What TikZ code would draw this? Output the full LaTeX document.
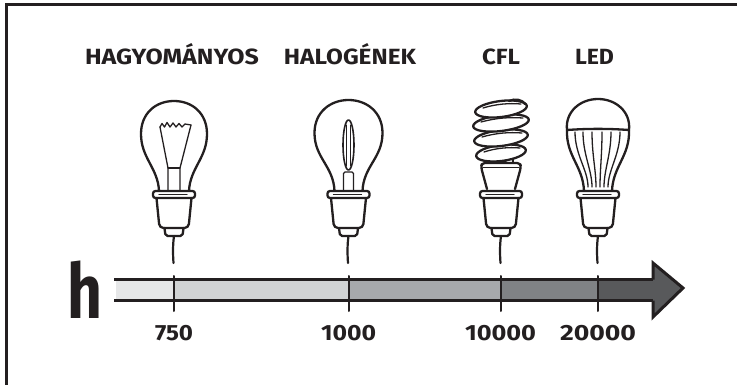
\documentclass[tikz,border=0pt]{standalone}
\usepackage{fontspec}
\setmainfont{Fira Sans}
\usepackage{graphicx}
\begin{document}
\definecolor{ink}{HTML}{231F20}
\definecolor{segA}{HTML}{E6E7E8}
\definecolor{segB}{HTML}{D1D3D4}
\definecolor{segC}{HTML}{A7A9AC}
\definecolor{segD}{HTML}{808285}
\definecolor{segE}{HTML}{58595B}
\newcommand\fitlabel[2]{\resizebox{#1}{\height}{\fontsize{22}{22}\selectfont\bfseries #2}}
\newcommand\fitnum[2]{\resizebox{#1}{\height}{\fontsize{22}{22}\selectfont\bfseries #2}}
\begin{tikzpicture}[x=1pt,y=-1pt,
  outline/.style={draw=ink,line width=2.3pt,line cap=round,line join=round},
  thinline/.style={draw=ink,line width=1.3pt,line cap=round,line join=round},
  frame/.style={draw=ink,line width=3pt},
  barline/.style={draw=ink,line width=3pt},
  tickline/.style={draw=ink,line width=2pt,line cap=round},
  wire/.style={draw=ink,line width=2.2pt,line cap=round},
  title/.style={text=ink,inner sep=0pt,anchor=base},
  number/.style={text=ink,inner sep=0pt,anchor=base},
]
\useasboundingbox (0,0) rectangle (737,385);

% frame (top and left edges)
\draw[frame] (6,385) -- (6,5) -- (737,5);

% titles
\node[title] (tInc) at (172,65) {\fitlabel{174pt}{HAGYOMÁNYOS}};
\node[title] (tHal) at (350,65) {\fitlabel{132pt}{HALOGÉNEK}};
\node[title] (tCfl) at (501,65) {\fitlabel{38pt}{CFL}};
\node[title] (tLed) at (594.5,65) {\fitlabel{39pt}{LED}};

% common lamp base: collar, socket, contact, lead wire
\tikzset{
  lampbase/.pic={
    \draw[outline,fill=white,rounded corners=2.5pt] (-21,191) rectangle (21,198);
    \draw[thinline] (-15,194.5) -- (13,194.5);
    \draw[outline,rounded corners=4pt] (-17.5,198) -- (-14.5,228) -- (14.5,228) -- (17.5,198);
    \draw[outline,rounded corners=2pt] (-9.5,228) -- (-8.5,236) -- (8.5,236) -- (9.5,228);
    \draw[wire] (0,236) .. controls (-1.2,245) and (-1.2,253) .. (-0.5,263);
  }
}

% incandescent bulb
\begin{scope}[shift={(174,0)}]
  \draw[outline] (-15,191) .. controls (-16,168) and (-33,158) .. (-33,134)
    .. controls (-33,113) and (-18,101) .. (0,101)
    .. controls (18,101) and (33,113) .. (33,134)
    .. controls (33,158) and (16,168) .. (15,191);
  \draw[thinline] (-14,127) -- (-12,123.5) -- (-9.5,127) -- (-7,122.5) -- (-4,127)
    -- (-1,123) -- (2,127) -- (5,123.5) -- (8,127) -- (11,124) -- (17,125);
  \draw[thinline] (-14,127) -- (-6,168) -- (-6,190);
  \draw[thinline] (17,125) -- (6,168) -- (6,190);
  \draw[thinline] (-6,168) -- (6,168);
  \pic {lampbase};
\end{scope}

% halogen bulb
\begin{scope}[shift={(348.5,0)}]
  \draw[outline] (-14,191) .. controls (-15,166) and (-34,158) .. (-34,133)
    .. controls (-34,112) and (-18,100) .. (0,100)
    .. controls (18,100) and (34,112) .. (34,133)
    .. controls (34,158) and (15,166) .. (14,191);
  \draw[thinline,line width=1.6pt] (0,145) ellipse [x radius=5.5, y radius=25];
  \draw[thinline,line width=1pt] (-1.8,125) -- (-1.8,166);
  \draw[thinline,line width=1pt] (1.8,125) -- (1.8,166);
  \draw[thinline,rounded corners=1.5pt] (-5,190) -- (-5,172) -- (5,172) -- (5,190);
  \pic {lampbase};
\end{scope}

% compact fluorescent bulb
\begin{scope}[shift={(501,0)}]
  \draw[outline] (-11,157) -- (-11,164);
  \draw[outline] (-4,157) -- (-5,164);
  \draw[outline] (5,157) -- (4,164);
  \draw[outline] (12,157) -- (12,164);
  \foreach \yc/\hw in {153/25, 138/27, 123/28, 109/26} {
    \draw[outline,fill=white,rotate around={7:(0,\yc)}] (0,\yc) ellipse [x radius=\hw, y radius=8];
    \draw[thinline] (-\hw+8,\yc-1) .. controls (-5,\yc-5) and (8,\yc-6) .. (\hw-6,\yc-5);
  }
  \draw[outline] (8,101) .. controls (14,98) and (22,100) .. (24,104);
  \draw[outline,fill=white,rounded corners=3pt] (-14,189) -- (-20,167) -- (-19,163)
    -- (19,163) -- (20,167) -- (14,189);
  \draw[thinline] (-18,167.5) -- (18,167.5);
  \pic {lampbase};
\end{scope}

% LED bulb
\begin{scope}[shift={(598,0)}]
  \draw[outline] (-31,130) .. controls (-33,112) and (-18,99) .. (0,99)
    .. controls (18,99) and (33,112) .. (31,130);
  \draw[outline] (-31,130) .. controls (-10,128.5) and (10,128.5) .. (31,130);
  \draw[outline] (-31,130) .. controls (-32,156) and (-15,166) .. (-14,191);
  \draw[outline] (31,130) .. controls (32,156) and (15,166) .. (14,191);
  \foreach \xt/\xb in {-23/-10, -15/-6, -6/-2, 4/2, 13/6, 22/10} {
    \draw[thinline] (\xt,132) .. controls (\xt,155) and (\xb,170) .. (\xb,187);
  }
  \pic {lampbase};
\end{scope}

% time axis: shaded bar
\fill[segA] (116,280) rectangle (174,300);
\fill[segB] (174,280) rectangle (348.5,300);
\fill[segC] (348.5,280) rectangle (501,300);
\fill[segD] (501,280) rectangle (597.5,300);
\fill[segE] (597.5,280) rectangle (656,300);
\draw[barline] (114,279.5) -- (653,279.5);
\draw[barline] (114,300.5) -- (653,300.5);
\draw[barline,fill=segE,line join=miter] (653,279.5) -- (653,263) -- (683,288) -- (653,317) -- (653,300.5);

% ticks
\foreach \tx in {174,348.5,501,597.5} {
  \draw[tickline] (\tx,276) -- (\tx,311);
}

% axis symbol
\node[text=ink,inner sep=0pt,anchor=base] (hour) at (84.5,318)
  {\resizebox{35pt}{\height}{\fontsize{76}{76}\selectfont\bfseries h}};

% tick values
\node[number] (n1) at (174,340) {\fitnum{38pt}{750}};
\node[number] (n2) at (348.5,340) {\fitnum{55pt}{1000}};
\node[number] (n3) at (500.5,340) {\fitnum{71pt}{10000}};
\node[number] (n4) at (598,340) {\fitnum{76pt}{20000}};
\end{tikzpicture}
\end{document}
